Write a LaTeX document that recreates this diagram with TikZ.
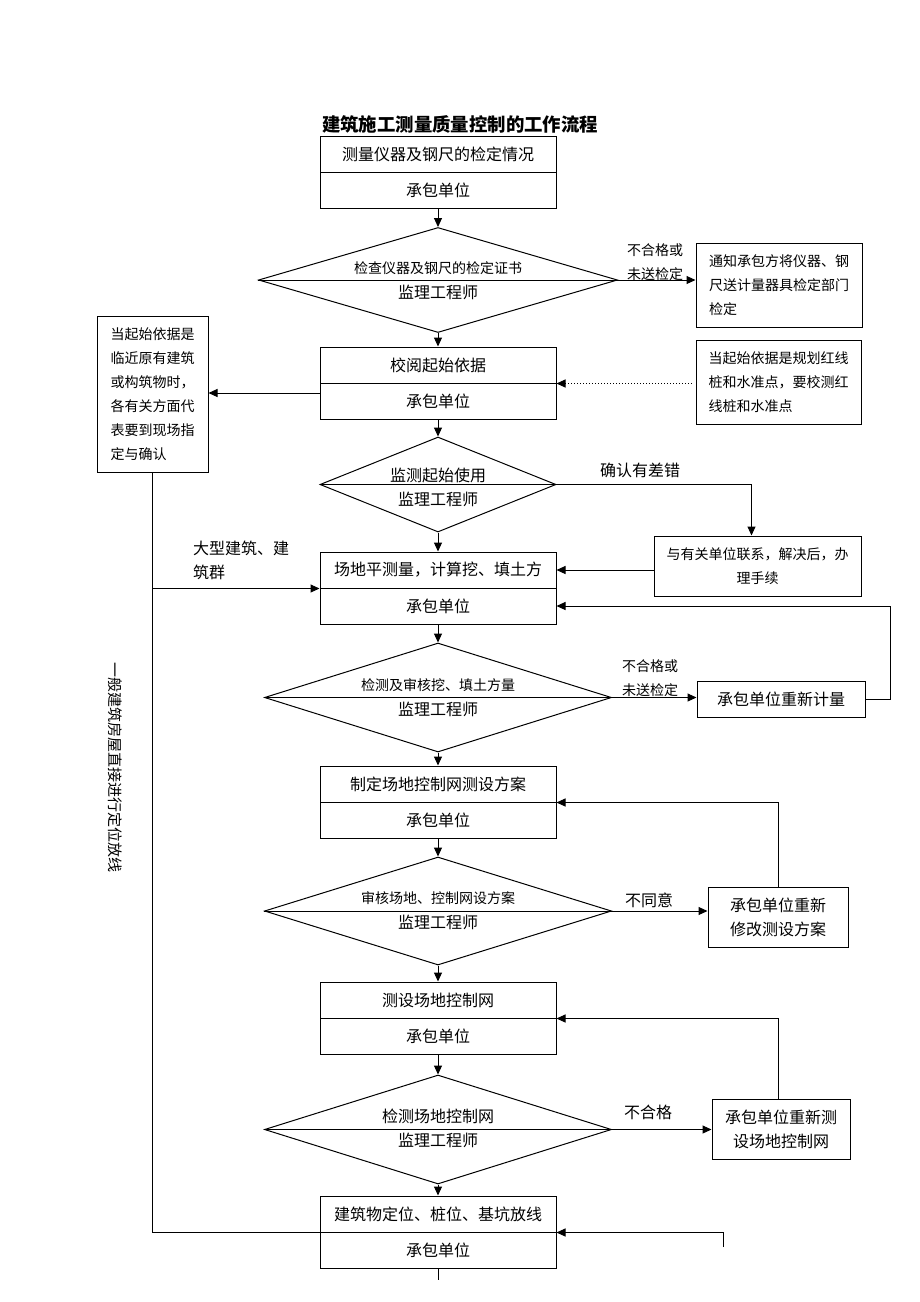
\documentclass[tikz,border=0pt]{standalone}
\usepackage{fontspec}
\setmainfont{Noto Sans CJK SC}
\usetikzlibrary{shapes.geometric,arrows.meta,positioning}
\newcommand\bigf{\fontsize{16pt}{24pt}\selectfont}
\newcommand\smallf{\fontsize{14pt}{24pt}\selectfont}
\tikzset{
  flow/.style={line width=1pt, -{Triangle[length=9pt,width=8pt]}},
  half/.style={draw, line width=1pt, minimum width=236pt, minimum height=36pt, inner sep=0pt, font=\bigf},
  check/.style={diamond, draw, line width=1pt, inner sep=0pt},
  note/.style={draw, line width=1pt, align=left, inner sep=0pt, font=\smallf},
  remark/.style={align=center, inner sep=0pt, font=\smallf},
}
\begin{document}
\begin{tikzpicture}[x=1pt, y=-1pt]
    \useasboundingbox (0,0) rectangle (920,1302);
    \node[font=\fontsize{18.4pt}{20pt}\selectfont\bfseries] (title) at (460,124) {建筑施工测量质量控制的工作流程};

    \node[half] (b1) at (438,154) {测量仪器及钢尺的检定情况};
    \node[half, below=-1pt of b1] (b1s) {承包单位};
    \node[check, minimum width=359pt, minimum height=105pt] (d1) at (438,280) {};
    \node[font=\smallf] (d1a) at ([yshift=12pt]d1.center) {检查仪器及钢尺的检定证书};
    \node[font=\bigf] (d1b) at ([yshift=-12pt]d1.center) {监理工程师};
    \node[note, minimum width=166pt, minimum height=84pt] (nb1) at (779,285) {通知承包方将仪器、钢\\尺送计量器具检定部门\\检定};
    \node[remark] (l1) at (655,262) {不合格或\\未送检定};

    \node[half] (b2) at (438,365) {校阅起始依据};
    \node[half, below=-1pt of b2] (b2s) {承包单位};
    \node[note, minimum width=111pt, minimum height=156pt] (lb) at (152.5,394) {当起始依据是\\临近原有建筑\\或构筑物时，\\各有关方面代\\表要到现场指\\定与确认};
    \node[note, minimum width=165pt, minimum height=84pt] (nb2) at (778.5,382) {当起始依据是规划红线\\桩和水准点，要校测红\\线桩和水准点};

    \node[check, minimum width=236pt, minimum height=95pt] (d2) at (438,484.5) {};
    \node[font=\bigf] (d2a) at ([yshift=9pt]d2.center) {监测起始使用};
    \node[font=\bigf] (d2b) at ([yshift=-15pt]d2.center) {监理工程师};
    \node[note, align=center, minimum width=207pt, minimum height=60pt] (nb3) at (757.5,566) {与有关单位联系，解决后，办\\理手续};
    \node[font=\bigf] (l2) at (640,470) {确认有差错};

    \node[half] (b4) at (438,570) {场地平测量，计算挖、填土方};
    \node[half, below=-1pt of b4] (b4s) {承包单位};
    \node[align=left, anchor=west, inner sep=0pt, font=\bigf] (l3) at (193,560) {大型建筑、建\\筑群};
    \node[rotate=-90, font=\fontsize{15pt}{15pt}\selectfont] (side) at (115,767) {一般建筑房屋直接进行定位放线};

    \node[check, minimum width=347pt, minimum height=109pt] (d3) at (438,697.5) {};
    \node[font=\smallf] (d3a) at ([yshift=12pt]d3.center) {检测及审核挖、填土方量};
    \node[font=\bigf] (d3b) at ([yshift=-12pt]d3.center) {监理工程师};
    \node[note, font=\bigf, minimum width=168pt, minimum height=36pt] (nb5) at (781,699) {承包单位重新计量};
    \node[remark] (l4) at (650,678) {不合格或\\未送检定};

    \node[half] (b6) at (438,784) {制定场地控制网测设方案};
    \node[half, below=-1pt of b6] (b6s) {承包单位};
    \node[check, minimum width=347pt, minimum height=108pt] (d4) at (438,911) {};
    \node[font=\smallf] (d4a) at ([yshift=13pt]d4.center) {审核场地、控制网设方案};
    \node[font=\bigf] (d4b) at ([yshift=-11pt]d4.center) {监理工程师};
    \node[note, align=center, font=\bigf, minimum width=140pt, minimum height=60pt] (nb7) at (778,917) {承包单位重新\\修改测设方案};
    \node[font=\bigf] (l5) at (649,900) {不同意};

    \node[half] (b8) at (438,1000) {测设场地控制网};
    \node[half, below=-1pt of b8] (b8s) {承包单位};
    \node[check, minimum width=347pt, minimum height=109pt] (d5) at (438,1129.5) {};
    \node[font=\bigf] (d5a) at ([yshift=13pt]d5.center) {检测场地控制网};
    \node[font=\bigf] (d5b) at ([yshift=-11pt]d5.center) {监理工程师};
    \node[note, align=center, font=\bigf, minimum width=138pt, minimum height=60pt] (nb9) at (781,1129) {承包单位重新测\\设场地控制网};
    \node[font=\bigf] (l6) at (648,1112) {不合格};

    \node[half] (b9) at (438,1214) {建筑物定位、桩位、基坑放线};
    \node[half, below=-1pt of b9] (b9s) {承包单位};
    \coordinate (cont) at (723,1247);
    \coordinate (tail) at (438,1280);

    \draw[line width=1pt] (d1.west) -- (d1.east);
    \draw[line width=1pt] (d2.west) -- (d2.east);
    \draw[line width=1pt] (d3.west) -- (d3.east);
    \draw[line width=1pt] (d4.west) -- (d4.east);
    \draw[line width=1pt] (d5.west) -- (d5.east);

    \draw[flow] (b1s.south) -- (d1.north);
    \draw[flow] (d1.east) -- (d1.east -| nb1.west);
    \draw[flow] (d1.south) -- (b2.north);
    \draw[flow] ([yshift=8pt]b2s.west) -- ([yshift=8pt]b2s.west -| lb.east);
    \draw[flow, dotted, shorten <=4pt] (nb2.west |- b2.south east) -- (b2.south east);
    \draw[flow] (b2s.south) -- (d2.north);
    \draw[flow] (d2.east) -| ([xshift=-6pt]nb3.north);
    \draw[flow] (b4.east -| nb3.west) -- (b4.east);
    \draw[flow] (d2.south) -- (b4.north);
    \draw[line width=1pt] (lb.south) -- (lb.south |- b9.south west) -- (b9.south west);
    \draw[flow] (lb.south |- b4.south west) -- (b4.south west);
    \draw[flow] (b4s.south) -- (d3.north);
    \draw[flow] (d3.east) -- (d3.east -| nb5.west);
    \draw[flow] (nb5.east) -- ++(25,0) |- (b4s.east);
    \draw[flow] (d3.south) -- (b6.north);
    \draw[flow] (b6s.south) -- (d4.north);
    \draw[flow] (d4.east) -- (d4.east -| nb7.west);
    \draw[flow] (nb7.north) |- (b6.south east);
    \draw[flow] (d4.south) -- (b8.north);
    \draw[flow] (b8s.south) -- (d5.north);
    \draw[flow] (d5.east) -- (d5.east -| nb9.west);
    \draw[flow] ([xshift=-3pt]nb9.north) |- (b8.south east);
    \draw[flow] (d5.south) -- (b9.north);
    \draw[flow] (cont) |- (b9.south east);
    \draw[line width=1pt] (b9s.south) -- (tail);
\end{tikzpicture}
\end{document}
